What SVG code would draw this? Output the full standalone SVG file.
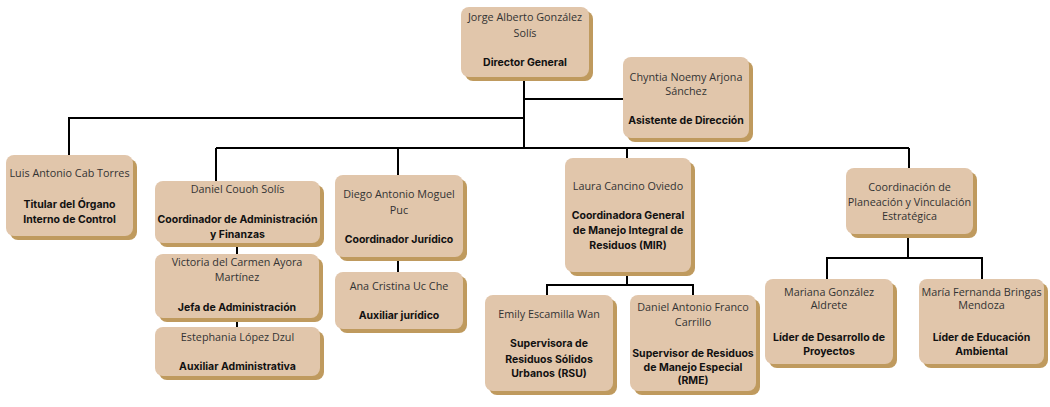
<svg xmlns="http://www.w3.org/2000/svg" width="1050" height="407" viewBox="0 0 1050 407">
<style>
.sh{fill:#bf9a5e}
.bx{fill:#e1c6ab}
text{font-family:"Open Sans","Noto Sans",sans-serif;font-size:10.8px;fill:#333;text-anchor:middle}
.b{font-family:Inter,"Noto Sans",sans-serif;font-size:10.5px;font-weight:bold;fill:#111}
.ln{stroke:#000;stroke-width:2;fill:none}
</style>
<rect width="1050" height="407" fill="#fff"/>
<g id="connectors" class="ln">
<path d="M524 79V148"/>
<path d="M524 99H623"/>
<path d="M524 118H69V155"/>
<path d="M216 148H909"/>
<path d="M216 148V181"/>
<path d="M398 148V175"/>
<path d="M627 148V158"/>
<path d="M909 148V168"/>
<path d="M237 245V254"/>
<path d="M237 320V327"/>
<path d="M398 259V272"/>
<path d="M627 274V285H547V295"/>
<path d="M627 285H693V295"/>
<path d="M908 236V258H827V279"/>
<path d="M908 258H982V279"/>
</g>
<g id="n-director">
<rect class="sh" x="465" y="11" width="128" height="70" rx="8"/>
<rect class="bx" x="461" y="7" width="128" height="70" rx="8"/>
<text x="525" y="21">Jorge Alberto González</text>
<text x="525" y="37">Solís</text>
<text class="b" x="525" y="66">Director General</text>
</g>
<g id="n-asistente">
<rect class="sh" x="627" y="61" width="126" height="81" rx="8"/>
<rect class="bx" x="623" y="57" width="126" height="81" rx="8"/>
<text x="686" y="81">Chyntia Noemy Arjona</text>
<text x="686" y="95">Sánchez</text>
<text class="b" x="686" y="124">Asistente de Dirección</text>
</g>
<g id="n-titular">
<rect class="sh" x="10" y="159" width="127" height="81" rx="8"/>
<rect class="bx" x="6" y="155" width="127" height="81" rx="8"/>
<text x="69.5" y="177">Luis Antonio Cab Torres</text>
<text class="b" x="69.5" y="208">Titular del Órgano</text>
<text class="b" x="69.5" y="223">Interno de Control</text>
</g>
<g id="n-admin">
<rect class="sh" x="159" y="185" width="165" height="62" rx="8"/>
<rect class="bx" x="155" y="181" width="165" height="62" rx="8"/>
<text x="237.5" y="193">Daniel Couoh Solís</text>
<text class="b" x="237.5" y="223">Coordinador de Administración</text>
<text class="b" x="237.5" y="238">y Finanzas</text>
</g>
<g id="n-jefa">
<rect class="sh" x="159" y="258" width="164" height="64" rx="8"/>
<rect class="bx" x="155" y="254" width="164" height="64" rx="8"/>
<text x="237" y="266">Victoria del Carmen Ayora</text>
<text x="237" y="281">Martínez</text>
<text class="b" x="237" y="311">Jefa de Administración</text>
</g>
<g id="n-auxadmin">
<rect class="sh" x="159" y="331" width="165" height="49" rx="8"/>
<rect class="bx" x="155" y="327" width="165" height="49" rx="8"/>
<text x="237.5" y="341">Estephania López Dzul</text>
<text class="b" x="237.5" y="370">Auxiliar Administrativa</text>
</g>
<g id="n-juridico">
<rect class="sh" x="339" y="179" width="128" height="82" rx="8"/>
<rect class="bx" x="335" y="175" width="128" height="82" rx="8"/>
<text x="399" y="198">Diego Antonio Moguel</text>
<text x="399" y="214">Puc</text>
<text class="b" x="399" y="243">Coordinador Jurídico</text>
</g>
<g id="n-auxjur">
<rect class="sh" x="339" y="276" width="128" height="57" rx="8"/>
<rect class="bx" x="335" y="272" width="128" height="57" rx="8"/>
<text x="399" y="290">Ana Cristina Uc Che</text>
<text class="b" x="399" y="319">Auxiliar jurídico</text>
</g>
<g id="n-mir">
<rect class="sh" x="569" y="162" width="126" height="114" rx="8"/>
<rect class="bx" x="565" y="158" width="126" height="114" rx="8"/>
<text x="628" y="190">Laura Cancino Oviedo</text>
<text class="b" x="628" y="219">Coordinadora General</text>
<text class="b" x="628" y="234">de Manejo Integral de</text>
<text class="b" x="628" y="249">Residuos (MIR)</text>
</g>
<g id="n-rsu">
<rect class="sh" x="489" y="299" width="128" height="96" rx="8"/>
<rect class="bx" x="485" y="295" width="128" height="96" rx="8"/>
<text x="549" y="318">Emily Escamilla Wan</text>
<text class="b" x="549" y="347">Supervisora de</text>
<text class="b" x="549" y="363">Residuos Sólidos</text>
<text class="b" x="549" y="377">Urbanos (RSU)</text>
</g>
<g id="n-rme">
<rect class="sh" x="634" y="299" width="126" height="96" rx="8"/>
<rect class="bx" x="630" y="295" width="126" height="96" rx="8"/>
<text x="693" y="311">Daniel Antonio Franco</text>
<text x="693" y="326">Carrillo</text>
<text class="b" x="693" y="357">Supervisor de Residuos</text>
<text class="b" x="693" y="371">de Manejo Especial</text>
<text class="b" x="693" y="384">(RME)</text>
</g>
<g id="n-planeacion">
<rect class="sh" x="850" y="172" width="127" height="66" rx="8"/>
<rect class="bx" x="846" y="168" width="127" height="66" rx="8"/>
<text x="909.5" y="191">Coordinación de</text>
<text x="909.5" y="206">Planeación y Vinculación</text>
<text x="909.5" y="220">Estratégica</text>
</g>
<g id="n-desarrollo">
<rect class="sh" x="769" y="283" width="128" height="85" rx="8"/>
<rect class="bx" x="765" y="279" width="128" height="85" rx="8"/>
<text x="829" y="296">Mariana González</text>
<text x="829" y="309">Aldrete</text>
<text class="b" x="829" y="341">Líder de Desarrollo de</text>
<text class="b" x="829" y="355">Proyectos</text>
</g>
<g id="n-educacion">
<rect class="sh" x="923" y="283" width="125" height="85" rx="8"/>
<rect class="bx" x="919" y="279" width="125" height="85" rx="8"/>
<text x="981.5" y="296">María Fernanda Bringas</text>
<text x="981.5" y="309">Mendoza</text>
<text class="b" x="981.5" y="341">Líder de Educación</text>
<text class="b" x="981.5" y="355">Ambiental</text>
</g>
</svg>
